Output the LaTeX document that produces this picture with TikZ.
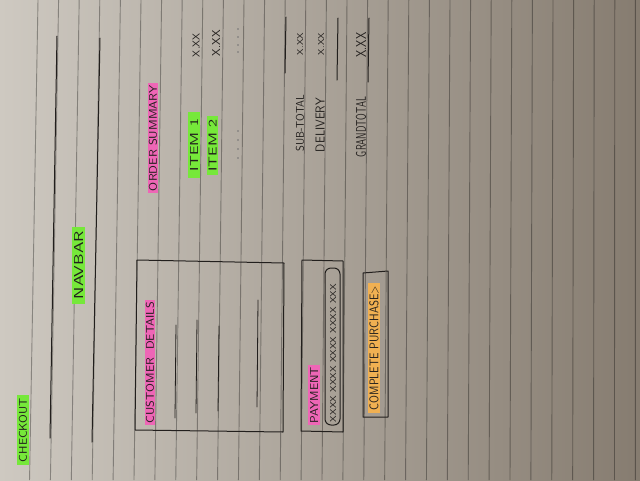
\documentclass[tikz,border=0pt]{standalone}
\usepackage{tikz}
\usetikzlibrary{calc}
\definecolor{paperlight}{RGB}{206,201,193}
\definecolor{papermid}{RGB}{178,170,160}
\definecolor{paperdark}{RGB}{134,124,112}
\definecolor{hlgreen}{RGB}{118,232,58}
\definecolor{hlpink}{RGB}{238,102,182}
\definecolor{hlorange}{RGB}{240,176,82}
\definecolor{pen}{RGB}{34,31,29}
\def\scribble#1#2#3{\resizebox{#1pt}{#2pt}{#3}}
\tikzset{
	hand/.style={rotate=90, inner sep=0pt, text=pen, font=\sffamily},
	marker/.style={hand, minimum height=12pt},
	paperline/.style={line width=0.9pt, color=black, opacity=0.33},
	penline/.style={line width=1pt, color=pen, line cap=round, line join=round}
}

\begin{document}
\begin{tikzpicture}[x=1pt, y=-1pt]
		%%%%% START %%%%%
		
		\useasboundingbox (0, 0) rectangle (640, 480);
		\shade[left color=paperlight, middle color=papermid, right color=paperdark] (0, 0) rectangle (640, 480);
		\clip (0, 0) rectangle (640, 480);
		
		% ruled paper
		\foreach \k in {0,...,29} {
			\pgfmathsetmacro\xt{38+20.6*\k}
			\pgfmathsetmacro\xb{\xt-9*(1-\xt/640)}
			\draw[paperline] (\xt, 0) -- (\xb, 480);
		}
		
		\node[marker, fill=hlgreen, minimum width=70pt] (checkout) at (23, 430) {\scribble{64}{8}{CHECKOUT}};
		
		% navbar
		\draw[penline] (57, 36) -- (50, 438);
		\draw[penline] (100, 38) -- (92, 442);
		\node[marker, fill=hlgreen, minimum width=77pt, minimum height=13pt] (navbar) at (78.5, 265) {\scribble{68}{9}{NAVBAR}};
		
		% customer details
		\draw[penline] (137, 260) -- (284, 263) -- (283, 432) -- (135, 430) -- cycle;
		\node[marker, fill=hlpink, minimum width=125pt, minimum height=10pt] (custdetails) at (150, 362.5) {\scribble{121}{8}{CUSTOMER \ DETAILS}};
		\draw[penline, line width=0.8pt] (176, 325) -- (175, 418);
		\draw[penline, line width=0.8pt] (197, 320) -- (196, 413);
		\draw[penline, line width=0.8pt] (219, 326) -- (218, 411);
		\draw[penline, line width=0.8pt] (258, 300) -- (257, 407);
		
		% payment
		\draw[penline] (302, 260) -- (343, 261) -- (343, 432) -- (301, 431) -- cycle;
		\draw[penline, rounded corners=6pt] (325, 268) rectangle (340, 425);
		\node[marker, fill=hlpink, minimum width=60pt] (payment) at (314, 395) {\scribble{56}{8}{PAYMENT}};
		\node[hand] (cardnum) at (333, 353) {\scribble{138}{6}{XXXX XXXX XXXX XXXX XXX}};
		
		% complete purchase button
		\draw[penline] (363, 273) -- (388, 271) -- (388, 417) -- (363, 417) -- cycle;
		\node[marker, fill=hlorange, minimum width=130pt] (complete) at (374, 348) {\scribble{124}{9}{COMPLETE PURCHASE>}};
		
		% order summary
		\node[marker, fill=hlpink, minimum width=110pt, minimum height=10pt] (ordersum) at (153, 138) {\scribble{106}{8}{ORDER SUMMARY}};
		\node[marker, fill=hlgreen, minimum width=66pt] (item1) at (194, 145) {\scribble{52}{8}{ITEM 1}};
		\node[marker, fill=hlgreen, minimum width=59pt, minimum height=11pt] (item2) at (212.5, 145.5) {\scribble{52}{8}{ITEM 2}};
		\node[hand] (price1) at (196, 45) {\scribble{24}{7}{X.XX}};
		\node[hand] (price2) at (216, 43) {\scribble{26}{8}{X.XX}};
		\foreach \y in {29, 37, 45, 52, 131, 140, 149, 158}
			\fill[color=black!55] (238, \y) circle (0.8);
		
		% totals
		\draw[penline] (286, 17) -- (285, 73);
		\draw[penline] (338, 18) -- (337, 80);
		\draw[penline] (369, 18) -- (368, 82);
		\node[hand] (subtotal) at (300, 123) {\scribble{57}{8}{SUB-TOTAL}};
		\node[hand] (subprice) at (300, 44) {\scribble{22}{6}{X.XX}};
		\node[hand] (delivery) at (320, 125) {\scribble{54}{9}{DELIVERY}};
		\node[hand] (delprice) at (321, 44) {\scribble{22}{6}{X.XX}};
		\node[hand] (grandtotal) at (361, 127) {\scribble{60}{10}{GRANDTOTAL}};
		\node[hand] (grandprice) at (361, 45) {\scribble{25}{10}{X.XX}};
		
		%%%%% END %%%%%
	\end{tikzpicture}
\end{document}
